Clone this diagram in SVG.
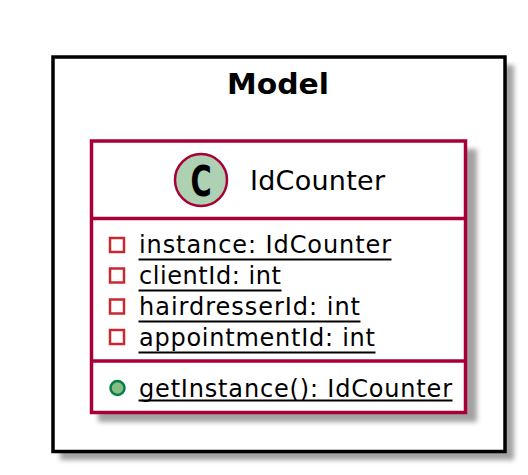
<svg xmlns="http://www.w3.org/2000/svg" width="528" height="475" viewBox="0 0 528 475">
<style>
text{font-family:"DejaVu Sans",sans-serif;fill:#000}
.m{font-size:24px}
.u{stroke:#000;stroke-width:1.800}
.crimson{fill:none;stroke:#A80036;stroke-width:3.5}
.vis{fill:none;stroke:#C82930;stroke-width:2.5}
</style>
<defs>
<filter id="sh" x="-10%" y="-10%" width="125%" height="125%"><feGaussianBlur stdDeviation="2.500"/></filter>
</defs>
<rect width="528" height="475" fill="#fff"/>
<g id="package-Model">
<rect x="60" y="65" width="454" height="395" fill="#000" opacity=".36" filter="url(#sh)"/>
<rect x="53" y="57" width="452" height="394.500" fill="#fff" stroke="#000" stroke-width="3.500"/>
<text x="227" y="94" font-size="29" font-weight="700" textLength="102" lengthAdjust="spacingAndGlyphs">Model</text>
</g>
<g id="class-IdCounter">
<rect x="98" y="149" width="379" height="273" fill="#000" opacity=".36" filter="url(#sh)"/>
<rect x="91.500" y="141" width="374" height="271.500" fill="#fff"/>
<rect class="crimson" x="91.500" y="141" width="374" height="271.500"/>
<line class="crimson" x1="91.500" y1="218.500" x2="465.500" y2="218.500"/>
<line class="crimson" x1="91.500" y1="361" x2="465.500" y2="361"/>
<circle cx="201" cy="180" r="26" fill="#ADD1B2" stroke="#A80036" stroke-width="2.500"/>
<text transform="translate(201 196) scale(.74 1.100)" text-anchor="middle" font-size="39" font-weight="700">C</text>
<text x="250" y="190" font-size="27" textLength="135">IdCounter</text>
<rect class="vis" x="110" y="238" width="14" height="14"/>
<text class="m" x="139" y="253" textLength="252">instance: IdCounter</text>
<line class="u" x1="138.500" y1="259.500" x2="391.500" y2="259.500"/>
<rect class="vis" x="110" y="268.500" width="14" height="14"/>
<text class="m" x="139" y="284" textLength="142">clientId: int</text>
<line class="u" x1="138.500" y1="290.500" x2="281.500" y2="290.500"/>
<rect class="vis" x="110" y="299.500" width="14" height="14"/>
<text class="m" x="139" y="315" textLength="221">hairdresserId: int</text>
<line class="u" x1="138.500" y1="321.500" x2="360.500" y2="321.500"/>
<rect class="vis" x="110" y="330" width="14" height="14"/>
<text class="m" x="139" y="346" textLength="236">appointmentId: int</text>
<line class="u" x1="138.500" y1="352.500" x2="375.500" y2="352.500"/>
<circle cx="117.500" cy="388" r="7" fill="#84BE84" stroke="#038048" stroke-width="2.500"/>
<text class="m" x="139" y="397" textLength="313">getInstance(): IdCounter</text>
<line class="u" x1="138.500" y1="400.500" x2="452.500" y2="400.500"/>
</g>
<g id="connectors"/>
</svg>
